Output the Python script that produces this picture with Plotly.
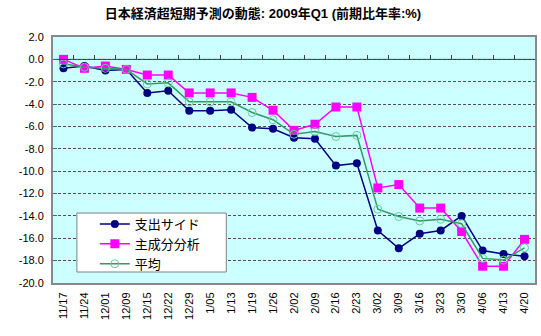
import plotly.graph_objects as go

dates = ["11/17", "11/24", "12/01", "12/09", "12/15", "12/22", "12/29", "1/05", "1/13",
         "1/19", "1/26", "2/02", "2/09", "2/16", "2/23", "3/02", "3/09", "3/16", "3/23",
         "3/30", "4/06", "4/13", "4/20"]
expenditure = [-0.8, -0.6, -1.0, -0.9, -3.0, -2.8, -4.6, -4.6, -4.5, -6.1, -6.2, -7.0, -7.1,
               -9.5, -9.3, -15.3, -16.9, -15.6, -15.3, -14.0, -17.1, -17.4, -17.6]
pca = [0.0, -0.8, -0.6, -0.9, -1.4, -1.4, -3.0, -3.0, -3.0, -3.4, -4.55, -6.35, -5.8,
       -4.26, -4.26, -11.5, -11.2, -13.3, -13.3, -15.4, -18.5, -18.5, -16.1]
average = [-0.4, -0.7, -0.8, -0.9, -2.2, -2.1, -3.8, -3.8, -3.8, -4.75, -5.4, -6.7, -6.45,
           -6.9, -6.8, -13.4, -14.05, -14.45, -14.3, -14.7, -17.8, -17.95, -16.85]
names = ["支出サイド", "主成分分析", "平均"]
y_ticks = [2, 0, -2, -4, -6, -8, -10, -12, -14, -16, -18, -20]

FONT = "Arial, Liberation Sans, Noto Sans CJK JP"
n = len(dates)

fig = go.Figure()
fig.add_trace(go.Scatter(x=dates, y=expenditure, name=names[0], mode="lines+markers",
                         line=dict(color="#000080", width=1.5),
                         marker=dict(symbol="circle", size=8, color="#000080")))
fig.add_trace(go.Scatter(x=dates, y=pca, name=names[1], mode="lines+markers",
                         line=dict(color="#FF00FF", width=1.5),
                         marker=dict(symbol="square", size=9, color="#FF00FF")))
fig.add_trace(go.Scatter(x=dates, y=average, name=names[2], mode="lines+markers",
                         line=dict(color="#339966", width=1.5),
                         marker=dict(symbol="circle-open", size=8, color="#66CC99",
                                     line=dict(width=1))))
# axis line at zero with tick marks between categories
fig.add_trace(go.Scatter(x=[-0.5, n - 0.5], y=[0, 0], xaxis="x2", mode="lines",
                         line=dict(color="#404040", width=1), showlegend=False,
                         hoverinfo="skip"))

PW, PH = 484, 246
fig.update_layout(
    width=541, height=336,
    margin=dict(l=53, r=4, t=37, b=53),
    paper_bgcolor="white", plot_bgcolor="#CCFFFF",
    font=dict(family=FONT, size=11, color="black"),
    title=dict(text="<b>日本経済超短期予測の動態: 2009年Q1 (前期比年率:%)</b>",
               x=263 / 541, xanchor="center", y=1 - 13 / 336, yanchor="middle",
               font=dict(size=13, family=FONT)),
    xaxis=dict(type="category", range=[-0.5, n - 0.5], tickangle=-90,
               showgrid=False, ticks="", showline=True, mirror=True,
               linecolor="#888888", linewidth=2, ticklabelstandoff=3,
               tickfont=dict(size=11)),
    xaxis2=dict(overlaying="x", range=[-0.5, n - 0.5], anchor="free",
                position=20 / 22, side="bottom", showticklabels=False,
                tickvals=[i + 0.5 for i in range(n - 1)], ticks="inside",
                ticklen=4, tickcolor="#404040", showline=False, showgrid=False,
                zeroline=False),
    yaxis=dict(range=[-20, 2], tickvals=y_ticks,
               ticktext=[f"{v:.1f}" for v in y_ticks],
               showgrid=True, gridcolor="#505050", griddash="3px,2px", gridwidth=1,
               zeroline=False, ticks="inside", ticklen=4, tickcolor="#606060",
               showline=True, mirror=True, linecolor="#888888", linewidth=2,
               ticklabelstandoff=5, tickfont=dict(size=11)),
    legend=dict(x=(95 - 53) / PW, y=(283 - 209) / PH, xanchor="left", yanchor="top",
                bgcolor="rgba(0,0,0,0)", borderwidth=0,
                font=dict(size=13, family=FONT), tracegroupgap=0, itemwidth=30),
    shapes=[dict(type="rect", xref="paper", yref="paper", layer="above",
                 x0=(77 - 53) / PW, x1=(227 - 53) / PW,
                 y0=(283 - 272) / PH, y1=(283 - 213) / PH,
                 fillcolor="white", line=dict(color="#808080", width=1))],
    showlegend=True,
)
fig.write_html("out.html")
